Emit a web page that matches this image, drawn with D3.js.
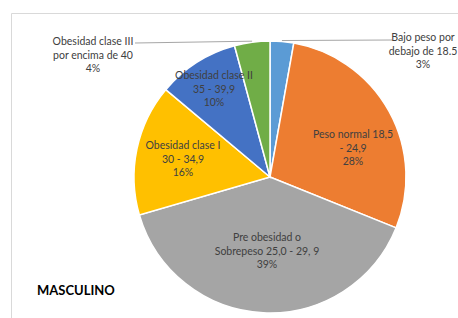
<!DOCTYPE html>
<html>
<head>
<meta charset="utf-8">
<script src="https://cdn.jsdelivr.net/npm/d3@7"></script>
<style>
  html, body { margin: 0; padding: 0; background: #fff; }
  svg text { font-family: Lato, "Open Sans", sans-serif; fill: #404040; }
</style>
</head>
<body>
<div id="chart"></div>
<script>
// data
var categories = [
  ['Bajo peso por', 'debajo de 18.5'],
  ['Peso normal 18,5', '- 24,9'],
  ['Pre obesidad o', 'Sobrepeso 25,0 - 29, 9'],
  ['Obesidad clase I', '30 - 34,9'],
  ['Obesidad clase II', '35 - 39,9'],
  ['Obesidad clase III', 'por encima de 40']
];
var values = [2.8, 28.3, 39.4, 15.6, 9.7, 4.2];
var percentLabels = ['3%', '28%', '39%', '16%', '10%', '4%'];
var colors = ['#5B9BD5', '#ED7D31', '#A5A5A5', '#FFC000', '#4472C4', '#70AD47'];
var title = 'MASCULINO';

var width = 458, height = 318;
var cx = 270, cy = 177, radius = 136;

// label layout (centre of first line), outside labels get a leader line
var labelLayout = [
  { x: 423, y: 41, outside: true, lineTo: [392, 40] },
  { x: 353, y: 138 },
  { x: 267, y: 241 },
  { x: 183, y: 149 },
  { x: 214, y: 79 },
  { x: 93, y: 45, outside: true, lineTo: [135, 43] }
];

var svg = d3.select('#chart').append('svg')
  .attr('width', width)
  .attr('height', height);

// chart frame
svg.append('path')
  .attr('d', 'M11.5,' + height + 'V13.5H' + width)
  .attr('fill', 'none')
  .attr('stroke', '#D9D9D9')
  .attr('stroke-width', 1);

var pie = d3.pie().sort(null).value(function (d) { return d; });
var arc = d3.arc().innerRadius(0).outerRadius(radius);
var arcs = pie(values);

var g = svg.append('g').attr('transform', 'translate(' + cx + ',' + cy + ')');

g.selectAll('path.slice')
  .data(arcs)
  .enter().append('path')
  .attr('class', 'slice')
  .attr('d', arc)
  .attr('fill', function (d, i) { return colors[i]; })
  .attr('stroke', '#fff')
  .attr('stroke-width', 1.5);

// leader lines for outside labels
var edgeArc = d3.arc().innerRadius(radius).outerRadius(radius);
arcs.forEach(function (d, i) {
  var l = labelLayout[i];
  if (!l.outside) return;
  var p = edgeArc.centroid(d);
  svg.append('line')
    .attr('x1', cx + p[0]).attr('y1', cy + p[1] - 1)
    .attr('x2', l.lineTo[0]).attr('y2', l.lineTo[1])
    .attr('stroke', '#A6A6A6')
    .attr('stroke-width', 1);
});

// labels
var lineH = 13.6;
arcs.forEach(function (d, i) {
  var l = labelLayout[i];
  var lines = categories[i].concat([percentLabels[i]]);
  var t = svg.append('text')
    .attr('text-anchor', 'middle')
    .attr('font-size', '10.5px');
  lines.forEach(function (s, k) {
    t.append('tspan')
      .attr('x', l.x)
      .attr('y', l.y + k * lineH)
      .text(s);
  });
});

svg.append('text')
  .attr('x', 37)
  .attr('y', 295)
  .attr('font-size', '13px')
  .attr('font-weight', 'bold')
  .style('fill', '#000')
  .text(title);
</script>
</body>
</html>
